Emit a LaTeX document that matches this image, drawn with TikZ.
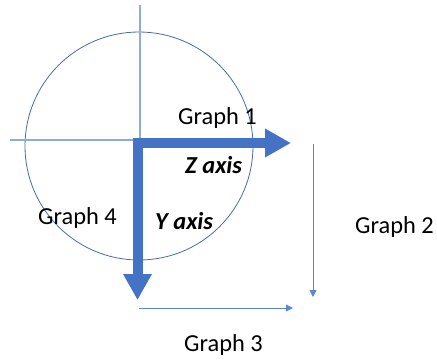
\documentclass[tikz,border=0pt]{standalone}
\usepackage{fontspec}
\setmainfont{Carlito}
\usetikzlibrary{arrows.meta}
\definecolor{thick}{HTML}{4472C4}
\definecolor{circ}{HTML}{4A6AAE}
\definecolor{thinax}{HTML}{8FAADC}
\definecolor{thinarr}{HTML}{5B86D0}
\begin{document}
\begin{tikzpicture}[x=1pt,y=-1pt,
  lbl/.style={anchor=base west,inner sep=0pt,font=\fontsize{24.4}{29}\selectfont},
  axlbl/.style={lbl,font=\fontsize{24.4}{29}\selectfont\bfseries\itshape},
  bigarrow/.style={draw=thick,line width=10pt,-{Triangle[length=26pt,width=27pt]}},
  smallarrow/.style={draw=thinarr,line width=0.9pt,-{Triangle[length=7pt,width=7pt]}},
  axline/.style={draw=thinax,line width=1.1pt}]
\useasboundingbox (0,0) rectangle (437,360);
% circle and cross lines
\coordinate (c) at (139,146);
\draw[circ,line width=0.8pt] (c) circle[radius=114pt];
\coordinate (vtop) at (140,5);
\coordinate (vbot) at (140,139);
\coordinate (hleft) at (10,140);
\coordinate (hright) at (140,140);
\draw[axline] (vtop) -- (vbot);
\draw[axline] (hleft) -- (hright);
% thick axes
\coordinate (zs) at (132.5,143);
\coordinate (ze) at (291,143);
\coordinate (ys) at (137.5,138);
\coordinate (ye) at (137.5,300);
\draw[bigarrow] (ys) -- (ye);
\draw[bigarrow] (zs) -- (ze);
% thin arrows
\coordinate (g2s) at (313,144);
\coordinate (g2e) at (313,297);
\coordinate (g3s) at (139,308);
\coordinate (g3e) at (293,308);
\draw[smallarrow] (g2s) -- (g2e);
\draw[smallarrow] (g3s) -- (g3e);
% labels
\node[lbl] (t1) at (178,124) {Graph 1};
\node[axlbl] (tz) at (185,173) {Z axis};
\node[lbl] (t4) at (38,224) {Graph 4};
\node[axlbl] (ty) at (155,229) {Y axis};
\node[lbl] (t2) at (355,233) {Graph 2};
\node[lbl] (t3) at (184,351) {Graph 3};
\end{tikzpicture}
\end{document}
